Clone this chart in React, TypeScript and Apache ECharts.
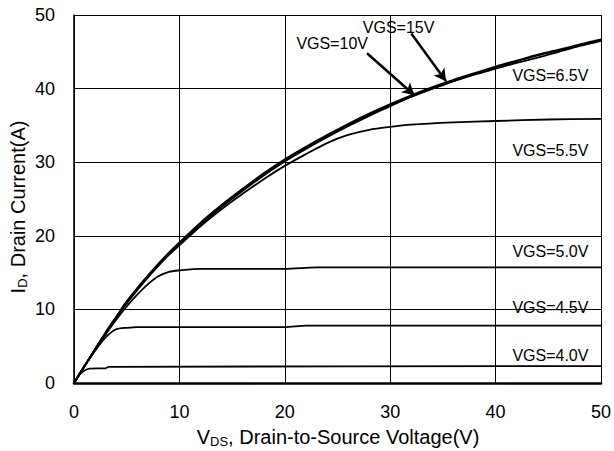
import React, { useEffect, useRef } from "react";
import * as echarts from "echarts";

const xTicks = [0, 10, 20, 30, 40, 50];
const yTicks = [0, 10, 20, 30, 40, 50];

const vgs15: number[][] = [[0,0],[1,2.3],[2,4.6],[3,6.9],[4,9],[5,11.1],[6,12.9],[7,14.6],[8,16.2],[9,17.7],[10,19.1],[12,21.8],[14,24.2],[16,26.4],[18,28.5],[20,30.4],[22,32.1],[24,33.7],[26,35.2],[28,36.6],[30,37.9],[32,39.1],[34,40.2],[36,41.2],[38,42.1],[40,43],[42,43.8],[44,44.6],[46,45.3],[48,46],[50,46.7]];
const vgs10: number[][] = [[0,0],[1,2.3],[2,4.6],[3,6.8],[4,8.9],[5,11],[6,12.8],[7,14.5],[8,16.1],[9,17.6],[10,19],[12,21.6],[14,24],[16,26.2],[18,28.3],[20,30.2],[22,31.9],[24,33.5],[26,35],[28,36.4],[30,37.7],[32,38.9],[34,40],[36,41],[38,42],[40,42.9],[42,43.7],[44,44.5],[46,45.2],[48,45.9],[50,46.6]];
const vgs65: number[][] = [[0,0],[1,2.3],[2,4.5],[3,6.7],[4,8.8],[5,10.9],[6,12.7],[7,14.4],[8,16],[9,17.5],[10,18.9],[12,21.5],[14,23.9],[16,26.1],[18,28.2],[20,30.1],[22,31.8],[24,33.4],[26,34.9],[28,36.3],[30,37.6],[32,38.9],[34,40],[36,41],[38,41.9],[40,42.7],[42,43.5],[44,44.2],[46,45],[48,45.8],[50,46.5]];
const vgs55: number[][] = [[0,0],[1,2.3],[2,4.5],[3,6.7],[4,8.8],[5,10.8],[6,12.6],[7,14.3],[8,15.9],[9,17.4],[10,18.7],[12,21.3],[14,23.6],[16,25.7],[18,27.7],[20,29.5],[22,31.1],[24,32.6],[26,33.7],[28,34.4],[30,34.8],[32,35.1],[36,35.4],[40,35.6],[45,35.8],[50,35.9]];
const vgs50: number[][] = [[0,0],[1,2.3],[2,4.5],[3,6.6],[4,8.6],[5,10.4],[6,12],[7,13.4],[8,14.5],[9,15.1],[10,15.3],[12,15.5],[20,15.5],[23,15.7],[50,15.7]];
const vgs45: number[][] = [[0,0],[1,2.3],[2,4.4],[3,6.2],[4,7.3],[5,7.5],[6,7.6],[20,7.6],[22,7.8],[50,7.8]];
const vgs40: number[][] = [[0,0],[0.5,1.1],[1,1.7],[1.5,1.95],[3,2.0],[3.3,2.2],[50,2.3]];

const curveLabels: { text: string; at: number[] }[] = [
  { text: "VGS=15V", at: [30.8, 48.3] },
  { text: "VGS=10V", at: [24.5, 46.1] },
  { text: "VGS=6.5V", at: [45.2, 41.8] },
  { text: "VGS=5.5V", at: [45.2, 31.6] },
  { text: "VGS=5.0V", at: [45.2, 17.8] },
  { text: "VGS=4.5V", at: [45.2, 10.2] },
  { text: "VGS=4.0V", at: [45.2, 3.8] },
];

const arrows: number[][][] = [
  [[27.8, 44.8], [32.3, 39.1]],
  [[32.0, 47.5], [35.3, 41.0]],
];

const FONT = "Liberation Sans, Arial, sans-serif";

export default function App() {
  const ref = useRef<HTMLDivElement>(null);
  useEffect(() => {
    document.body.style.margin = "0";
    const chart = echarts.init(ref.current!, null, { renderer: "svg" });
    const mk = (name: string, data: number[][], extra: any = {}) => ({
      name,
      type: "line",
      data,
      showSymbol: false,
      symbol: "none",
      smooth: 0.3,
      lineStyle: { color: "#000", width: 1.8 },
      z: 3,
      ...extra,
    });
    const rich = {
      a: { fontSize: 20, fontFamily: FONT, fill: "#000" },
      b: { fontSize: 13, fontFamily: FONT, fill: "#000", verticalAlign: "bottom", padding: [8, 0, 0, 0] },
    };
    chart.setOption({
      animation: false,
      textStyle: { fontFamily: FONT },
      grid: { left: 74, right: 12, top: 15, bottom: 68 },
      xAxis: {
        type: "value",
        min: xTicks[0],
        max: xTicks[xTicks.length - 1],
        interval: 10,
        axisLine: { show: true, lineStyle: { color: "#000", width: 2.5 } },
        axisTick: { show: false },
        axisLabel: { color: "#000", fontSize: 18, fontFamily: FONT, margin: 20 },
        splitLine: { show: true, lineStyle: { color: "#000", width: 1 } },
      },
      yAxis: {
        type: "value",
        min: yTicks[0],
        max: yTicks[yTicks.length - 1],
        interval: 10,
        axisLine: { show: true, lineStyle: { color: "#000", width: 1.5 } },
        axisTick: { show: false },
        axisLabel: { color: "#000", fontSize: 18, fontFamily: FONT, margin: 19 },
        splitLine: { show: true, lineStyle: { color: "#000", width: 1 } },
      },
      graphic: [
        {
          type: "text",
          x: 338,
          y: 437,
          style: {
            text: "{a|V}{b|DS}{a|, Drain-to-Source Voltage(V)}",
            align: "center",
            verticalAlign: "middle",
            fill: "#000",
            rich,
          },
        },
        {
          type: "text",
          x: 18,
          y: 207,
          rotation: Math.PI / 2,
          style: {
            text: "{a|I}{b|D}{a|, Drain Current(A)}",
            align: "center",
            verticalAlign: "middle",
            fill: "#000",
            rich,
          },
        },
      ],
      series: [
        mk("VGS=15V", vgs15, {
          markPoint: {
            symbol: "circle",
            symbolSize: 1,
            itemStyle: { color: "rgba(0,0,0,0)" },
            label: { show: true, position: "inside", color: "#000", fontSize: 16, fontFamily: FONT, formatter: (p: any) => p.name },
            data: curveLabels.map((l) => ({ name: l.text, coord: l.at })),
          },
          markLine: {
            silent: true,
            symbol: ["none", "arrow"],
            symbolSize: [10, 12],
            label: { show: false },
            lineStyle: { color: "#000", width: 2.5, type: "solid" },
            data: arrows.map((a) => [{ coord: a[0] }, { coord: a[1] }]),
          },
        }),
        mk("VGS=10V", vgs10),
        mk("VGS=6.5V", vgs65),
        mk("VGS=5.5V", vgs55),
        mk("VGS=5.0V", vgs50),
        mk("VGS=4.5V", vgs45, { smooth: 0.2 }),
        mk("VGS=4.0V", vgs40, { smooth: 0.2 }),
      ],
    });
    return () => chart.dispose();
  }, []);
  return <div ref={ref} style={{ width: 614, height: 451 }} />;
}
